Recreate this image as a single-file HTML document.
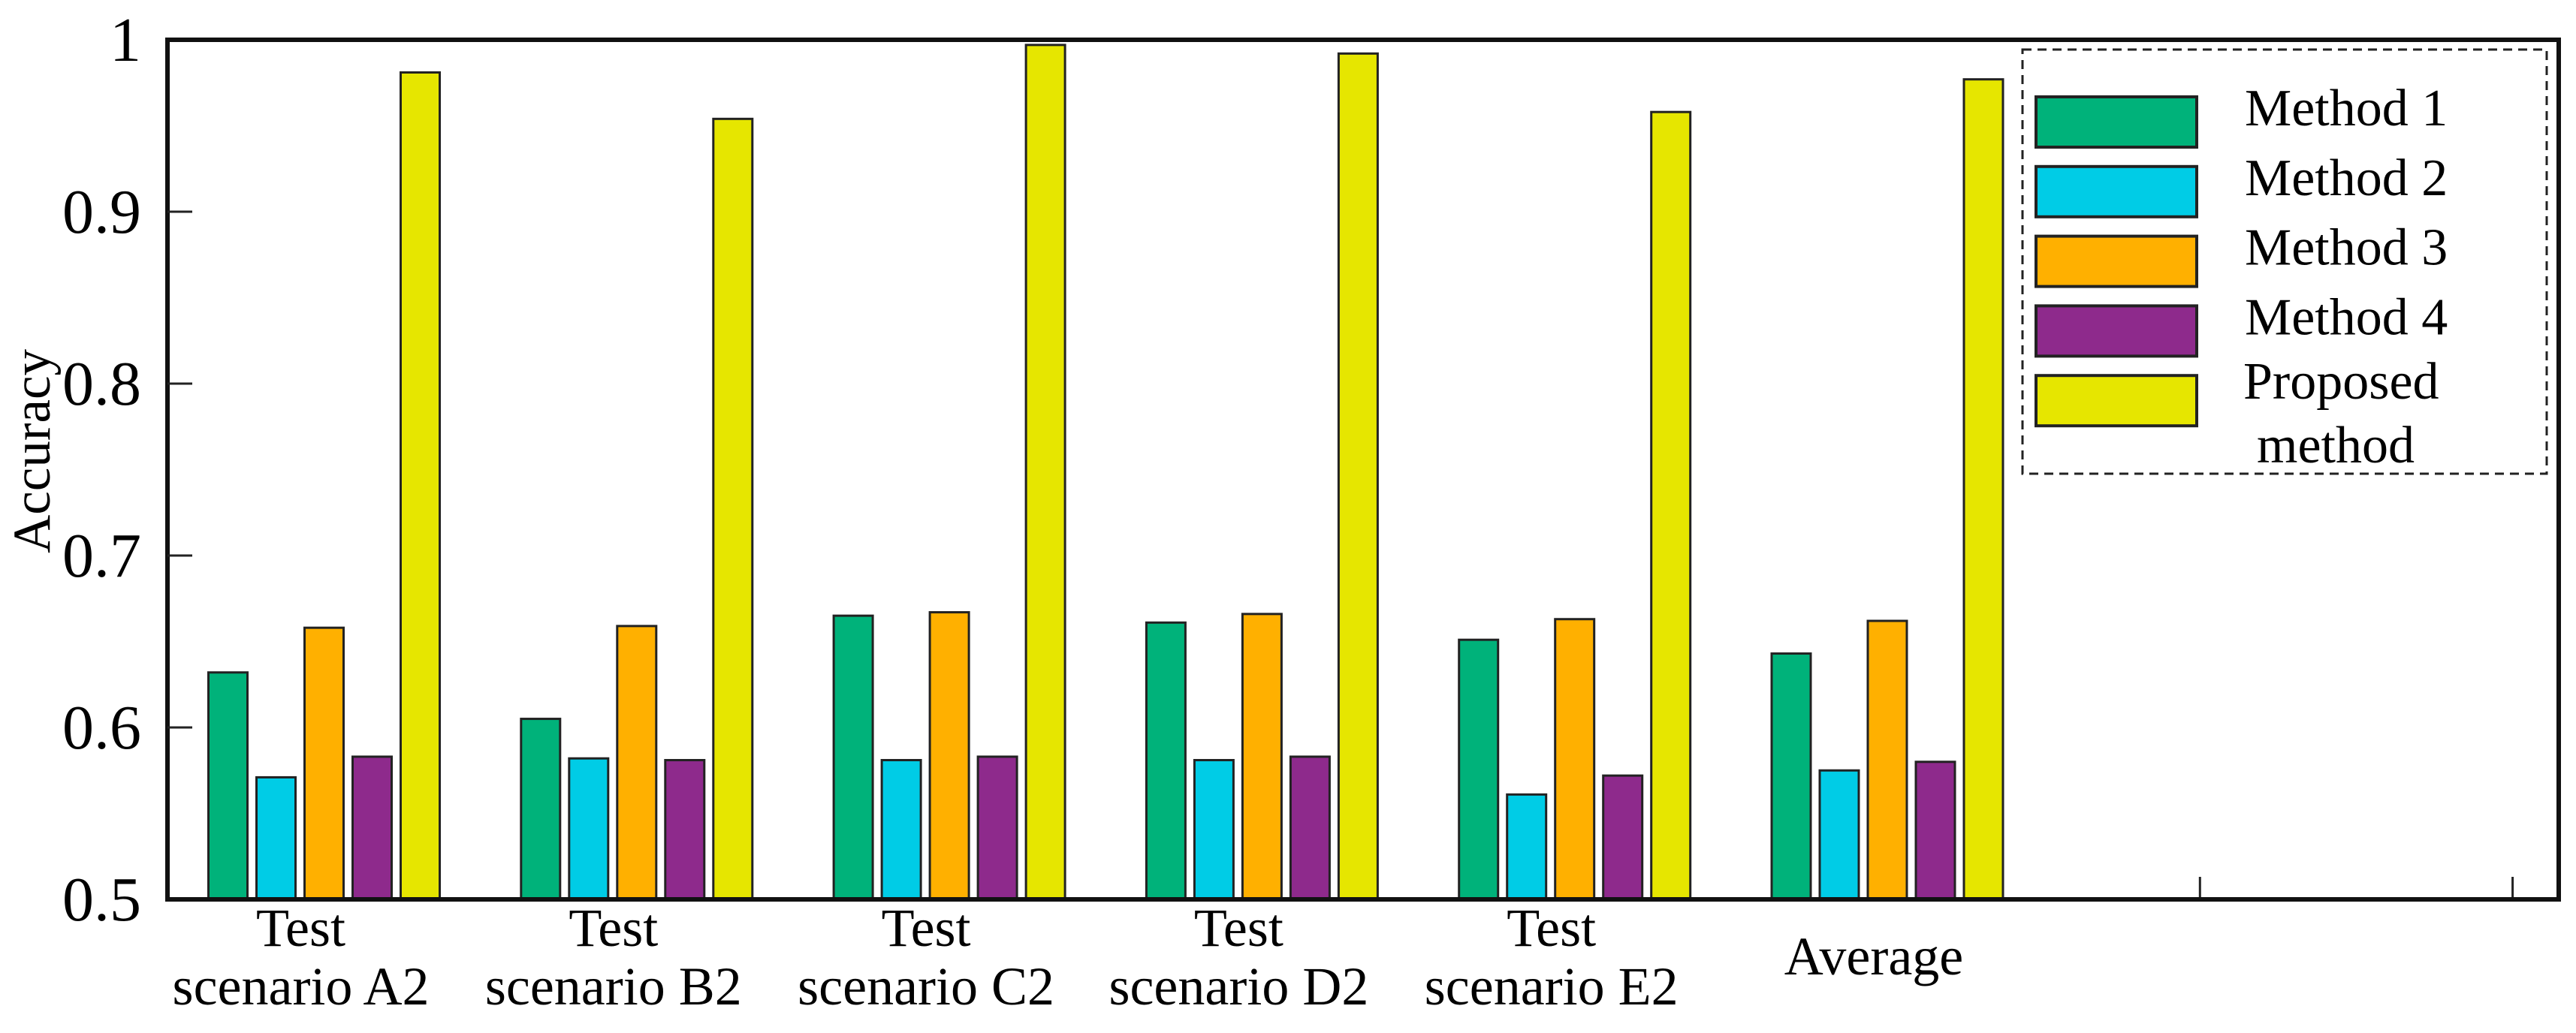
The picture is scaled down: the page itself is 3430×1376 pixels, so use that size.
<!DOCTYPE html>
<html><head><meta charset="utf-8"><style>
html,body{margin:0;padding:0;background:#fff;}
svg{display:block;font-family:"Liberation Serif","DejaVu Serif",serif;}
</style></head><body>
<svg id="chart" width="3430" height="1376" viewBox="0 0 3430 1376" xmlns="http://www.w3.org/2000/svg">
<rect x="0" y="0" width="3430" height="1376" fill="#fff"/>
<g id="xticks"></g>
<g id="bars"></g>
<g id="axes"></g>
<text transform="translate(66,601) rotate(-90)" text-anchor="middle" font-size="71">Accuracy</text>
<g id="legend">
<rect x="2693" y="66" width="698" height="565" fill="none" stroke="#222" stroke-width="3" stroke-dasharray="12,8"/>
</g>
</svg>
<script>
const categories = ["Test|scenario A2","Test|scenario B2","Test|scenario C2","Test|scenario D2","Test|scenario E2","Average","",""];
const seriesNames = ["Method 1","Method 2","Method 3","Method 4","Proposed|method"];
const method1 = [0.632,0.605,0.665,0.661,0.651,0.643];
const method2 = [0.571,0.582,0.581,0.581,0.561,0.575];
const method3 = [0.658,0.659,0.667,0.666,0.663,0.662];
const method4 = [0.583,0.581,0.583,0.583,0.572,0.580];
const proposed = [0.981,0.954,0.997,0.992,0.958,0.977];
const yTicks = [0.5,0.6,0.7,0.8,0.9,1];
const yTickLabels = ["0.5","0.6","0.7","0.8","0.9","1"];

const NS="http://www.w3.org/2000/svg";
const series=[method1,method2,method3,method4,proposed];
const colors=["#00b27a","#00cce6","#ffb000","#8e2a8c","#e6e600"];
const X0=223,X1=3407,Y0=53,Y1=1198;
function y(v){return Y1-(v-0.5)/0.5*(Y1-Y0);}
function xc(i){return 431.5+416.3*i;}
const barW=52,pitch=64;
function mk(tag,attrs,parent){const e=document.createElementNS(NS,tag);for(const k in attrs)e.setAttribute(k,attrs[k]);parent.appendChild(e);return e;}
const gb=document.getElementById('bars'),ga=document.getElementById('axes'),gl=document.getElementById('legend'),gx=document.getElementById('xticks');
series.forEach((s,si)=>{s.forEach((v,ci)=>{
  const x=xc(ci)+(si-2)*pitch-barW/2;
  const r=mk('rect',{x:x,y:y(v),width:barW,height:Y1-y(v),fill:colors[si],stroke:'#222','stroke-width':3},gb);
  
  
});});
const fr=mk('rect',{x:X0,y:Y0,width:X1-X0,height:Y1-Y0,fill:'none',stroke:'#111','stroke-width':6},ga);


yTicks.forEach((t,i)=>{
  const ty=y(t);
  if(i>0&&i<yTicks.length-1){const l=mk('line',{x1:X0,x2:X0+33,y1:ty,y2:ty,stroke:'#222','stroke-width':3},ga);
  
  }
  const tx=mk('text',{x:188,y:ty+28,'text-anchor':'end','font-size':84},ga);
  tx.textContent=yTickLabels[i];
  
  
});
categories.forEach((c,i)=>{
  const cx=xc(i);
  const l=mk('line',{x1:cx,x2:cx,y1:Y1,y2:Y1-30,stroke:'#222','stroke-width':3},gx);
  
  
  if(!c)return;
  const parts=c.split('|');
  const t=mk('text',{'text-anchor':'middle','font-size':72},ga);
  
  
  if(parts.length===1){mk('tspan',{x:cx-18,y:1298},t).textContent=parts[0];}
  else{mk('tspan',{x:cx-31,y:1260},t).textContent=parts[0];mk('tspan',{x:cx-31,y:1338},t).textContent=parts[1];}
});
seriesNames.forEach((n,i)=>{
  const sy=129+92.8*i;
  const r=mk('rect',{x:2711,y:sy,width:214,height:67,fill:colors[i],stroke:'#222','stroke-width':4},gl);
  
  
  const parts=n.split('|');
  const t=mk('text',{'font-size':70},gl);
  
  
  if(parts.length===1){mk('tspan',{x:2989,y:sy+38},t).textContent=parts[0];}
  else{mk('tspan',{x:2987,y:531},t).textContent=parts[0];mk('tspan',{x:3005,y:616},t).textContent=parts[1];}
});
</script>
</body></html>
